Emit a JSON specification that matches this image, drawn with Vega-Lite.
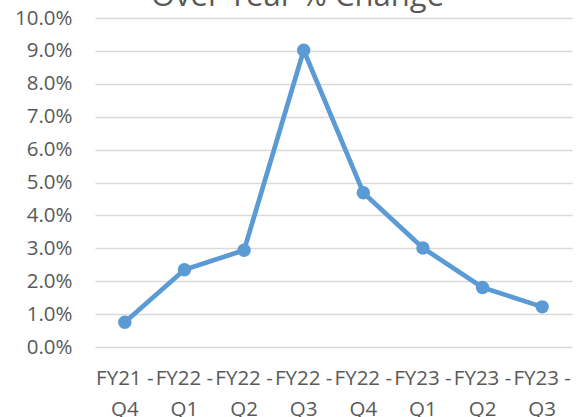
{
  "$schema": "https://vega.github.io/schema/vega-lite/v6.json",
  "width": 477,
  "height": 329,
  "autosize": {"type": "none"},
  "padding": {"left": 95, "top": 18, "right": 10, "bottom": 70},
  "background": "white",
  "config": {
    "view": {"stroke": null},
    "font": "Open Sans"
  },
  "title": {
    "text": "Over Year % Change",
    "font": "Open Sans",
    "fontSize": 31,
    "fontWeight": "normal",
    "color": "#595959",
    "baseline": "alphabetic",
    "anchor": "middle",
    "frame": "group",
    "dx": -36,
    "dy": 31,
    "offset": 2
  },
  "data": {
    "values": [
      {"quarter": "FY21 - Q4", "change": 0.0075},
      {"quarter": "FY22 - Q1", "change": 0.0235},
      {"quarter": "FY22 - Q2", "change": 0.0294},
      {"quarter": "FY22 - Q3", "change": 0.0902},
      {"quarter": "FY22 - Q4", "change": 0.0469},
      {"quarter": "FY23 - Q1", "change": 0.0301},
      {"quarter": "FY23 - Q2", "change": 0.0181},
      {"quarter": "FY23 - Q3", "change": 0.0122}
    ]
  },
  "encoding": {
    "x": {
      "field": "quarter",
      "type": "ordinal",
      "sort": null,
      "scale": {"type": "band", "paddingInner": 0, "paddingOuter": 0},
      "axis": {
        "title": null,
        "labelAngle": 0,
        "labelExpr": "split(replace(datum.value, ' - ', ' -|'), '|')",
        "labelFont": "Open Sans",
        "labelFontSize": 20.5,
        "labelColor": "#595959",
        "labelLineHeight": 31,
        "labelPadding": 21,
        "labelOverlap": false,
        "labelBound": false,
        "ticks": false,
        "domain": false,
        "grid": false
      }
    },
    "y": {
      "field": "change",
      "type": "quantitative",
      "scale": {"domain": [0, 0.1], "nice": false, "zero": true},
      "axis": {
        "title": null,
        "format": ".1%",
        "values": [0, 0.01, 0.02, 0.03, 0.04, 0.05, 0.06, 0.07, 0.08, 0.09, 0.1],
        "labelFont": "Open Sans",
        "labelFontSize": 20.5,
        "labelColor": "#595959",
        "labelPadding": 23,
        "ticks": false,
        "domain": false,
        "grid": true,
        "gridColor": "#d9d9d9",
        "gridWidth": 1.3
      }
    }
  },
  "layer": [
    {
      "mark": {"type": "line", "color": "#5b9bd5", "strokeWidth": 4.7, "strokeJoin": "round", "strokeCap": "round"}
    },
    {
      "mark": {"type": "point", "filled": true, "opacity": 1, "color": "#5b9bd5", "size": 180}
    }
  ]
}
